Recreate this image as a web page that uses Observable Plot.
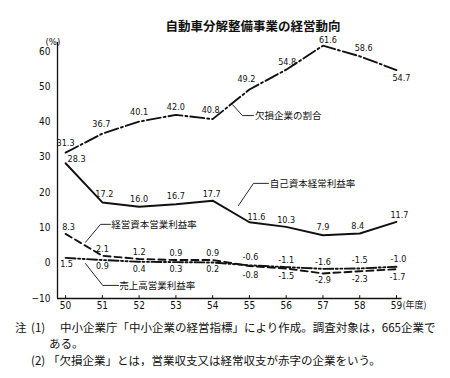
<!DOCTYPE html>
<html><head><meta charset="utf-8">
<script src="https://cdn.jsdelivr.net/npm/d3@7"></script>
<script src="https://cdn.jsdelivr.net/npm/@observablehq/plot@0.6"></script>
<style>
body{margin:0;background:#fff;width:450px;height:378px;position:relative;overflow:hidden;font-family:"Noto Sans CJK JP",sans-serif;color:#111}
#title{position:absolute;left:0;width:506px;text-align:center;top:18px;font-size:12.5px;font-weight:bold;line-height:16px}
#chart{position:absolute;left:0;top:30px}
.note{position:absolute;font-size:11.5px;line-height:14px;white-space:nowrap}
</style></head>
<body>
<div id="title"></div>
<div id="chart"></div>
<div id="notes"></div>
<script>
// ---- data ----
const titleText = "自動車分解整備事業の経営動向";
const years = [50, 51, 52, 53, 54, 55, 56, 57, 58, 59];
const deficitShare = [31.3, 36.7, 40.1, 42.0, 40.8, 49.2, 54.8, 61.6, 58.6, 54.7];
const equityOrdinary = [28.3, 17.2, 16.0, 16.7, 17.7, 11.6, 10.3, 7.9, 8.4, 11.7];
const capitalOperating = [8.3, 2.1, 1.2, 0.9, 0.9, -0.8, -1.5, -2.9, -2.3, -1.7];
const salesOperating = [1.5, 0.9, 0.4, 0.3, 0.2, -0.6, -1.1, -1.6, -1.5, -1.0];
const seriesNames = ["欠損企業の割合", "自己資本経常利益率", "経営資本営業利益率", "売上高営業利益率"];
const yTicks = [-10, 0, 10, 20, 30, 40, 50, 60];
const unitLabel = "(%)";
const yearUnit = "(年度)";
const noteMark = "注";
const note1Num = "(1)";
const note1a = "中小企業庁「中小企業の経営指標」により作成。調査対象は，665企業で";
const note1b = "ある。";
const note2Num = "(2)";
const note2 = "「欠損企業」とは，営業収支又は経常収支が赤字の企業をいう。";

// ---- layout / style (not data) ----
const xDomain = [49.78, 59.15];
const yDomain = [-10, 62.5];
const labelOffsets = [
  [[0,-10],[-1,-9],[0,-9],[0,-8],[-2,-9],[-3,-10],[1,-8],[5,-6],[4,-8],[5,8]],
  [[11,-4],[2,-8],[0,-8],[0,-8],[-1,-7],[7,-5],[0,-7],[0,-8],[-2,-7],[3,-7]],
  [[3,-7],[0,-7],[0,-7],[0,-7],[0,-7],[1,9],[0,8],[0,7],[0,8],[1,8]],
  [[1,6],[0,6],[0,7],[0,7],[0,7],[1,-8],[0,-7],[0,-7],[0,-8],[2,-8]]
];
const dashes = ["14,3,2,3", null, "7,4", "10,2.5,2,2.5,2,2.5"];
// annotation leader positions in data units
const leaders = [
  {pts: [[54.54, 44.9], [54.81, 41.8], [55.11, 41.8]], text: [55.15, 41.8]},
  {pts: [[54.70, 16.3], [55.11, 22.6], [55.52, 22.6]], text: [55.55, 22.4]},
  {pts: [[50.54, 5.9], [50.95, 11.0], [51.22, 11.0]], text: [51.24, 10.9]},
  {pts: [[50.54, -0.1], [51.01, -6.3], [51.44, -6.3]], text: [51.46, -6.4]}
];

document.getElementById("title").textContent = titleText;

const seriesValues = [deficitShare, equityOrdinary, capitalOperating, salesOperating];
const fmt = d3.format(".1f");
const numFont = "'Liberation Sans Narrow','DejaVu Sans Condensed','Liberation Sans',sans-serif";

const marks = [];
// axes lines
marks.push(Plot.ruleY([yDomain[0]], {stroke: "#111", strokeWidth: 1.3}));
marks.push(Plot.ruleX([xDomain[0]], {y1: yDomain[0], y2: yDomain[1], stroke: "#111", strokeWidth: 1.3}));
// small inward ticks on the year axis
marks.push(Plot.ruleX(years, {y1: yDomain[0], y2: yDomain[0] + 0.8, stroke: "#111", strokeWidth: 1}));

seriesValues.forEach((vals, s) => {
  const rows = years.map((y, i) => ({year: y, value: vals[i]}));
  marks.push(Plot.line(rows, {x: "year", y: "value", stroke: "#111", strokeWidth: 1.9,
    strokeDasharray: dashes[s] || undefined, strokeLinejoin: "round"}));
  rows.forEach((r, i) => {
    const [dx, dy] = labelOffsets[s][i];
    marks.push(Plot.text([r], {x: "year", y: "value", text: d => fmt(d.value).replace("−", "-"),
      dx, dy, fontSize: 9, fontFamily: numFont, fill: "#111"}));
  });
});

leaders.forEach((a, s) => {
  marks.push(Plot.line(a.pts, {x: d => d[0], y: d => d[1], stroke: "#111", strokeWidth: 0.9}));
  marks.push(Plot.text([a.text], {x: d => d[0], y: d => d[1], text: () => seriesNames[s],
    textAnchor: "start", fontSize: 9.5, fontFamily: "Noto Sans CJK JP", fill: "#111"}));
});

marks.push(Plot.axisY({ticks: yTicks, tickSize: 0, tickPadding: 7, fontSize: 10, label: null,
  fontFamily: numFont, tickFormat: d => d < 0 ? "−" + Math.abs(d) : d}));
marks.push(Plot.axisX({ticks: years, tickSize: 0, tickPadding: 3.5, fontSize: 10, label: null,
  fontFamily: numFont}));
marks.push(Plot.text([yearUnit], {x: years[years.length - 1], y: yDomain[0], dx: 6, dy: 7,
  text: d => d, textAnchor: "start", fontSize: 9, fontFamily: "Noto Sans CJK JP", fill: "#111"}));
marks.push(Plot.text([unitLabel], {frameAnchor: "top-left", dx: -12, dy: -4, text: d => d,
  fontSize: 9.5, fontFamily: numFont, fill: "#111"}));

const chart = Plot.plot({
  width: 450, height: 283,
  marginLeft: 57, marginRight: 48.5, marginTop: 12, marginBottom: 15,
  x: {domain: xDomain, axis: null},
  y: {domain: yDomain, axis: null},
  style: {background: "transparent", color: "#111"},
  marks
});
document.getElementById("chart").appendChild(chart);

const notesEl = document.getElementById("notes");
function note(text, left, top) {
  const d = document.createElement("div");
  d.className = "note"; d.textContent = text;
  d.style.left = left + "px"; d.style.top = top + "px";
  notesEl.appendChild(d);
}
note(noteMark, 15, 320);
note(note1Num, 31, 320);
note(note1a, 60, 320);
note(note1b, 49, 336);
note(note2Num, 31, 353);
note(note2, 48, 353);
</script>
</body></html>
